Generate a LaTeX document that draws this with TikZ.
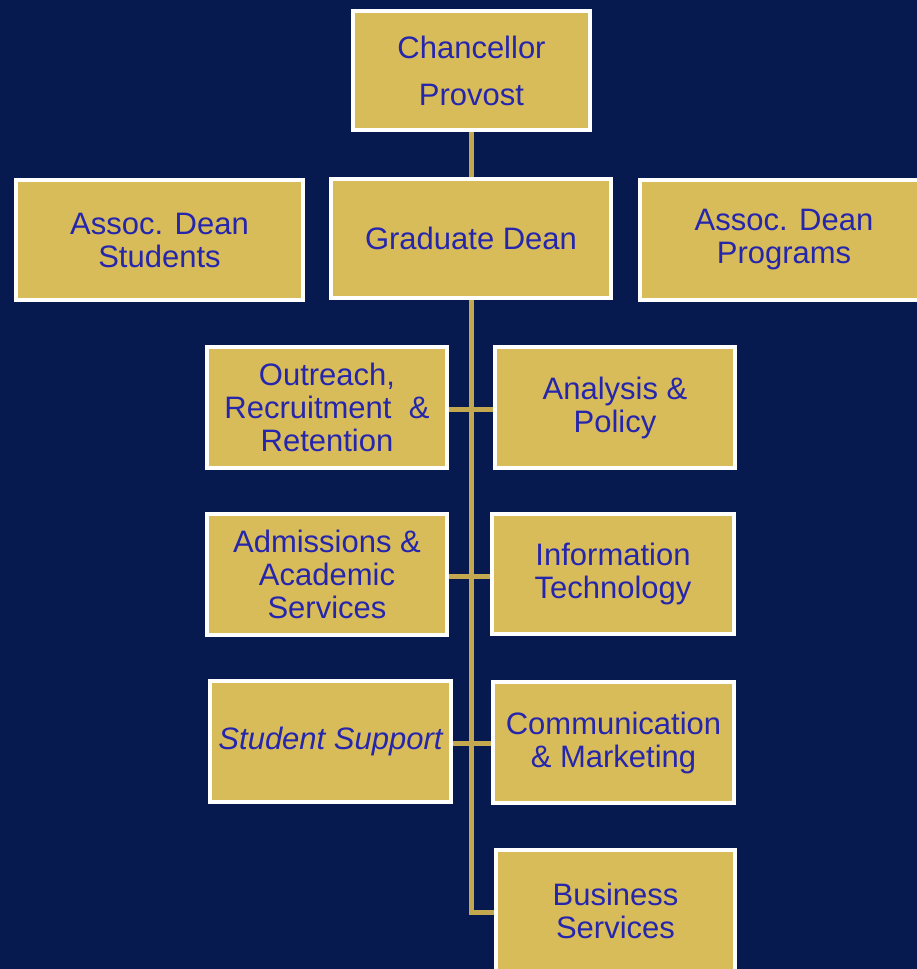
\documentclass[tikz,border=0pt]{standalone}
\usepackage{fontspec}
\setmainfont{Liberation Sans}
\definecolor{bgnavy}{HTML}{061A50}
\definecolor{boxgold}{HTML}{D8BC5A}
\definecolor{linegold}{HTML}{C4A84F}
\definecolor{textblue}{HTML}{2626AC}
\pgfdeclarelayer{bg}
\pgfsetlayers{bg,main}
\begin{document}
\begin{tikzpicture}[x=1pt,y=-1pt,
  orgbox/.style={draw=white, fill=boxgold, line width=4.5pt, text=textblue,
    align=center, inner sep=0pt, font=\fontsize{31}{33}\selectfont},
  conn/.style={draw=linegold, line width=5pt}]
\useasboundingbox (0,0) rectangle (917,969);
% nodes
\node[orgbox, minimum width=237pt, minimum height=119pt, font=\fontsize{31}{47}\selectfont] (chan) at (471.5,70.5) {Chancellor\\Provost};
\node[orgbox, minimum width=280pt, minimum height=119pt] (gd) at (471,238.5) {Graduate Dean};
\node[orgbox, minimum width=287pt, minimum height=120pt] (ads) at (159.5,240) {Assoc. Dean\\Students};
\node[orgbox, minimum width=288pt, minimum height=120pt] (adp) at (784,240) {Assoc. Dean\\Programs};
\node[orgbox, minimum width=240pt, minimum height=121pt] (orr) at (327,407.5) {Outreach,\\Recruitment\ \ \&\\Retention};
\node[orgbox, minimum width=240pt, minimum height=121pt] (ap) at (615,407.5) {Analysis \&\\Policy};
\node[orgbox, minimum width=240pt, minimum height=121pt] (aas) at (327,574.5) {Admissions \&\\Academic\\Services};
\node[orgbox, minimum width=242pt, minimum height=120pt] (it) at (613,574) {Information\\Technology};
\node[orgbox, minimum width=241pt, minimum height=121pt, font=\fontsize{31}{33}\selectfont\itshape] (ss) at (330.5,741.5) {Student Support};
\node[orgbox, minimum width=241pt, minimum height=121pt] (cm) at (613.5,742.5) {Communication\\\& Marketing};
\node[orgbox, minimum width=239pt, minimum height=121pt] (bs) at (615.5,910.5) {Business\\Services};
% connectors
\coordinate (trunkend) at (471,912);
\begin{pgfonlayer}{bg}
\fill[bgnavy] (0,0) rectangle (917,969);
\draw[conn] (chan.south -| gd.north) -- (gd.north);
\draw[conn] (gd.south) -- (trunkend) -- (trunkend -| bs.west);
\draw[conn] (orr.east |- 0,409) -- (ap.west |- 0,409);
\draw[conn] (aas.east |- 0,576) -- (it.west |- 0,576);
\draw[conn] (ss.east |- 0,743) -- (cm.west |- 0,743);
\end{pgfonlayer}
\end{tikzpicture}
\end{document}
